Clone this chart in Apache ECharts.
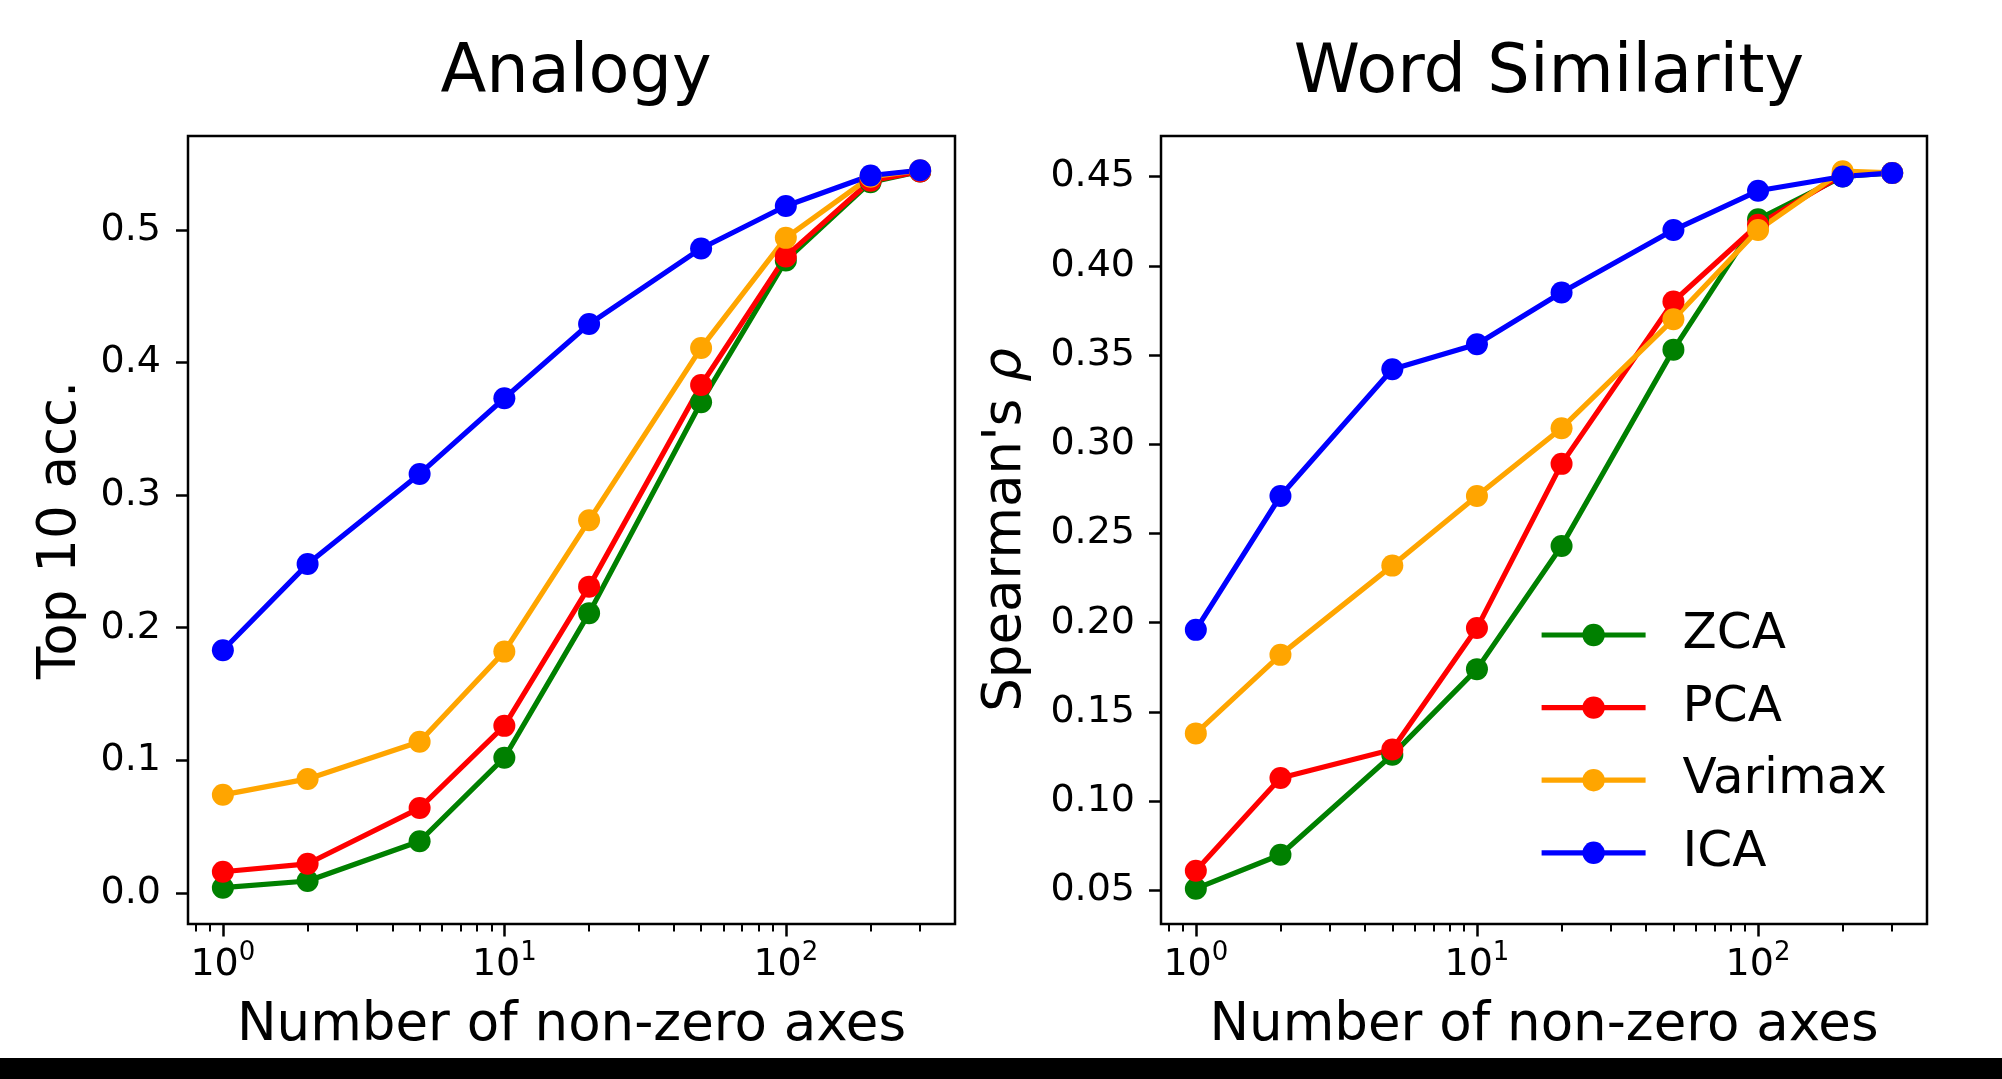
<!DOCTYPE html>
<html>
<head>
<meta charset="utf-8">
<script src="https://cdn.jsdelivr.net/npm/echarts@6/dist/echarts.min.js"></script>
<style>
  html, body { margin: 0; padding: 0; background: #fff; }
  #chart { width: 2002px; height: 1079px; }
</style>
</head>
<body>
<div id="chart"></div>
<script>
// ---------- data ----------
const nAxes = [1, 2, 5, 10, 20, 50, 100, 200, 300];
const seriesNames = ['ZCA', 'PCA', 'Varimax', 'ICA'];

const analogyZCA     = [0.004, 0.009, 0.039, 0.102, 0.211, 0.370, 0.477, 0.536, 0.544];
const analogyPCA     = [0.016, 0.022, 0.064, 0.126, 0.231, 0.383, 0.480, 0.537, 0.544];
const analogyVarimax = [0.074, 0.086, 0.114, 0.182, 0.281, 0.411, 0.494, 0.540, 0.545];
const analogyICA     = [0.183, 0.248, 0.316, 0.373, 0.429, 0.486, 0.518, 0.541, 0.545];

const simZCA     = [0.051, 0.070, 0.126, 0.174, 0.243, 0.353, 0.426, 0.450, 0.452];
const simPCA     = [0.061, 0.113, 0.129, 0.197, 0.289, 0.380, 0.423, 0.451, 0.452];
const simVarimax = [0.138, 0.182, 0.232, 0.271, 0.309, 0.370, 0.420, 0.453, 0.452];
const simICA     = [0.196, 0.271, 0.342, 0.356, 0.385, 0.420, 0.442, 0.450, 0.452];

const analogyYTicks = [0.0, 0.1, 0.2, 0.3, 0.4, 0.5];
const simYTicks = [0.05, 0.10, 0.15, 0.20, 0.25, 0.30, 0.35, 0.40, 0.45];
const xMajorExponents = [0, 1, 2];
const xMinorValues = [0.8, 0.9, 2, 3, 4, 5, 6, 7, 8, 9, 20, 30, 40, 50, 60, 70, 80, 90, 200, 300];

// ---------- style ----------
const FONT = 'DejaVu Sans';
const colors = { ZCA: '#008000', PCA: '#ff0000', Varimax: '#ffa500', ICA: '#0000ff' };
const LOG_MIN = -0.1239, LOG_MAX = 2.6010;
const LINE_W = 5.2;

function zip(xs, ys) { return xs.map((x, i) => [x, ys[i]]); }

function makeSeries(name, values, xIdx, yIdx) {
  return {
    name: name, type: 'line', xAxisIndex: xIdx, yAxisIndex: yIdx,
    data: zip(nAxes, values),
    symbol: 'circle', symbolSize: 22,
    lineStyle: { color: colors[name], width: LINE_W },
    itemStyle: { color: colors[name] },
    animation: false, silent: true
  };
}

function xAxesFor(gridIndex) {
  return [
    { // data axis (log)
      type: 'log', logBase: 10, gridIndex: gridIndex, position: 'bottom',
      min: Math.pow(10, LOG_MIN), max: Math.pow(10, LOG_MAX),
      axisLine: { show: false, onZero: false }, axisTick: { show: false },
      axisLabel: { show: false }, splitLine: { show: false },
      name: 'Number of non-zero axes', nameLocation: 'middle', nameGap: 76,
      nameTextStyle: { fontSize: 53, fontFamily: FONT, color: '#000' }
    },
    { // major ticks + labels (log10 space)
      type: 'value', gridIndex: gridIndex, position: 'bottom', min: LOG_MIN, max: LOG_MAX,
      axisLine: { show: false, onZero: false }, splitLine: { show: false },
      axisTick: { show: true, length: 12.5, customValues: xMajorExponents,
                  lineStyle: { color: '#000', width: 2.5 } },
      axisLabel: {
        show: true, customValues: xMajorExponents, margin: 16,
        formatter: v => '{b|10}{s|' + Math.round(v) + '}',
        rich: {
          b: { fontSize: 38, fontFamily: FONT, color: '#000', lineHeight: 44, verticalAlign: 'bottom' },
          s: { fontSize: 26, fontFamily: FONT, color: '#000', lineHeight: 26, verticalAlign: 'top' }
        }
      }
    },
    { // minor ticks
      type: 'value', gridIndex: gridIndex, position: 'bottom', min: LOG_MIN, max: LOG_MAX,
      axisLine: { show: false, onZero: false }, splitLine: { show: false }, axisLabel: { show: false },
      axisTick: { show: true, length: 7.5, customValues: xMinorValues.map(v => Math.log10(v)),
                  lineStyle: { color: '#000', width: 2 } }
    }
  ];
}

const chart = echarts.init(document.getElementById('chart'), null, { renderer: 'canvas', width: 2002, height: 1079 });

const option = {
  backgroundColor: '#ffffff',
  animation: false,
  textStyle: { fontFamily: FONT },
  title: [
    { text: 'Analogy', left: 571, top: 36, textAlign: 'center',
      textStyle: { fontSize: 67, fontWeight: 'normal', fontFamily: FONT, color: '#000' } },
    { text: 'Word Similarity', left: 1544, top: 36, textAlign: 'center',
      textStyle: { fontSize: 67, fontWeight: 'normal', fontFamily: FONT, color: '#000' } }
  ],
  grid: [
    { left: 188, top: 136, width: 767, height: 788, show: true, borderColor: '#000', borderWidth: 2.5, backgroundColor: 'transparent' },
    { left: 1161, top: 136, width: 766, height: 788, show: true, borderColor: '#000', borderWidth: 2.5, backgroundColor: 'transparent' }
  ],
  xAxis: [].concat(xAxesFor(0), xAxesFor(1)),
  yAxis: [
    { type: 'value', gridIndex: 0, position: 'left', min: -0.0234, max: 0.5708,
      axisLine: { show: false, onZero: false }, splitLine: { show: false },
      axisTick: { show: true, length: 12, customValues: analogyYTicks, lineStyle: { color: '#000', width: 2.5 } },
      axisLabel: { customValues: analogyYTicks, formatter: v => v.toFixed(1), fontSize: 38, fontFamily: FONT, color: '#000', margin: 27 },
      name: 'Top 10 acc.', nameLocation: 'middle', nameRotate: 90, nameGap: 100,
      nameTextStyle: { fontSize: 53, fontFamily: FONT, color: '#000' } },
    { type: 'value', gridIndex: 1, position: 'left', min: 0.0312, max: 0.4727,
      axisLine: { show: false, onZero: false }, splitLine: { show: false },
      axisTick: { show: true, length: 12, customValues: simYTicks, lineStyle: { color: '#000', width: 2.5 } },
      axisLabel: { customValues: simYTicks, formatter: v => v.toFixed(2), fontSize: 38, fontFamily: FONT, color: '#000', margin: 26 },
      name: "Spearman's {i|ρ}", nameLocation: 'middle', nameRotate: 90, nameGap: 128,
      nameTextStyle: { fontSize: 53, fontFamily: FONT, color: '#000',
        rich: { i: { fontSize: 53, fontFamily: FONT, fontStyle: 'italic', color: '#000' } } } }
  ],
  legend: {
    data: seriesNames, orient: 'vertical', left: 1539, top: 610, padding: 0,
    itemWidth: 104, itemHeight: 28, itemGap: 22.6, selectedMode: false,
    lineStyle: { width: LINE_W },
    formatter: name => '{p| }{t|' + name + '}',
    textStyle: {
      fontSize: 50, fontFamily: FONT, color: '#000', lineHeight: 50,
      rich: { p: { width: 32 }, t: { fontSize: 50, fontFamily: FONT, color: '#000', lineHeight: 50 } }
    }
  },
  graphic: [
    { type: 'rect', shape: { x: 0, y: 1058, width: 2002, height: 21 }, style: { fill: '#000' }, silent: true }
  ],
  series: [
    makeSeries('ZCA', analogyZCA, 0, 0),
    makeSeries('PCA', analogyPCA, 0, 0),
    makeSeries('Varimax', analogyVarimax, 0, 0),
    makeSeries('ICA', analogyICA, 0, 0),
    makeSeries('ZCA', simZCA, 3, 1),
    makeSeries('PCA', simPCA, 3, 1),
    makeSeries('Varimax', simVarimax, 3, 1),
    makeSeries('ICA', simICA, 3, 1)
  ]
};
chart.setOption(option);
</script>
</body>
</html>
